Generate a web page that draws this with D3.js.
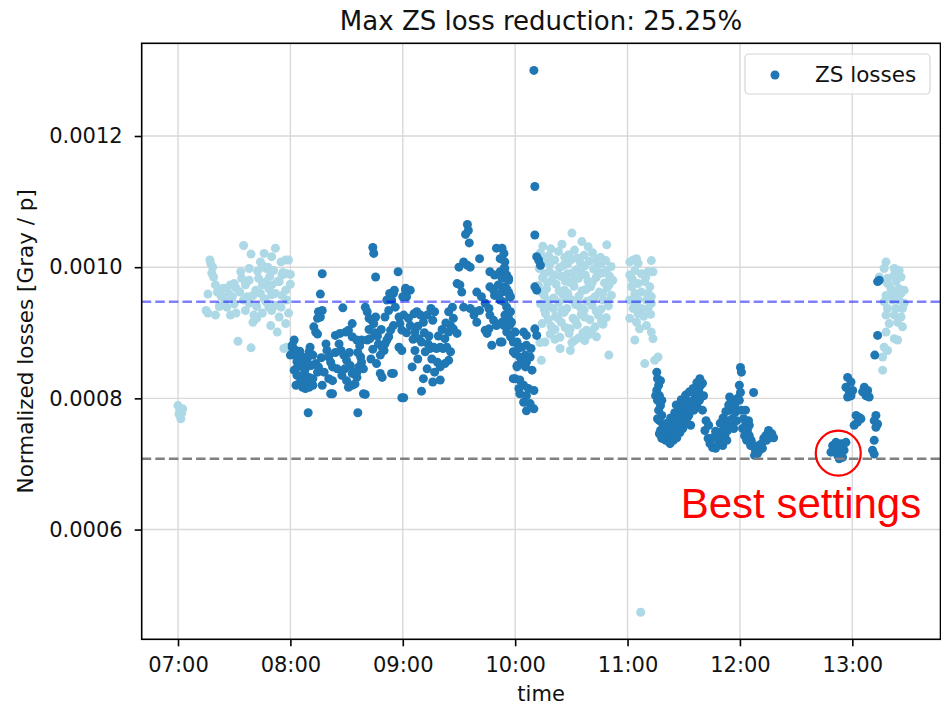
<!DOCTYPE html>
<html>
<head>
<meta charset="utf-8">
<script src="https://cdn.jsdelivr.net/npm/d3@7"></script>
<style>
  body { margin: 0; background: #fff; }
  svg { display: block; }
</style>
</head>
<body>
<svg id="chart" width="941" height="707"></svg>
<script>
// Each point: [minutes after SESSION_START, normalized loss in units of LOSS_UNIT]
const SESSION_START = "07:00";
const LOSS_UNIT = 1e-4;

// Reference loss level (blue dashed) and best loss found (grey dashed), in LOSS_UNIT
const referenceLoss = 9.472;
const bestLoss = 7.08;

// Reference running periods (light markers)
const light1 = [
  [0,7.89],[1,7.82],[2.5,7.84],[0.5,7.76],[1.5,7.69],[2,7.78],
  [35,10.33],[39,10.20],[46,10.21],[50,10.16],[52,10.29],
  [17,10.11],[17.5,10.05],[18.5,10.00],[18,9.91],[19,9.85],[20,9.73],[21,9.62],[16,9.59],
  [15,9.34],[16,9.30],[20,9.27],[26,9.39],[28,9.27],[31,9.30],
  [26,9.68],[28,9.73],[31,9.68],[33.5,9.93],[34,9.83],[36,9.73],[37,9.55],[36,9.34],
  [40,9.57],[41.5,9.65],[42.5,9.94],[44,10.08],[45,10.03],[47,9.98],
  [43,9.83],[45,9.73],[47,9.78],[48.5,9.67],[50,9.73],[52,9.60],[54,9.78],[55.5,9.88],
  [55,10.08],[57.5,10.11],[59,10.11],[58,9.90],[60,9.89],
  [40.5,9.27],[40,9.16],[42,9.22],[47,9.47],[48.5,9.39],[50,9.34],[52,9.42],[55,9.39],
  [54,9.24],[57.5,9.14],[49.5,9.11],[53,9.01],
  [55.5,9.57],[57.5,9.65],[58,9.50],[32,8.87],[39,8.77],[56.5,8.76],[58,8.78],
  [23,9.56],[25,9.48],[27,9.60],[29,9.55],[33,9.62],[38,9.45],[30,9.75],[44,9.60],
  [46,9.52],[50,9.58],[53,9.78],[56,9.92],[48,10.00],[51,9.95],[38,9.80],
  [22,9.40],[24,9.68],[30,9.44],[35,9.50],[42,9.40],[45,9.30],[38,9.98],[49,9.86],[60,9.74],[59,9.30]
];

const light2 = [
  [210.3,10.52],[194.8,10.32],[205,10.35],[215.6,10.39],[228.9,10.34],[219,10.31],[199,10.28],
  [193.5,10.22],[197.9,10.17],[203.1,10.24],[208.6,10.19],[211.7,10.26],[216.8,10.18],[221.3,10.22],[225.6,10.15],
  [195.2,10.08],[201.1,10.11],[205.8,10.03],[210.2,10.12],[214.9,10.06],[219.6,10.09],[223.8,10.02],[228.4,10.10],[231.2,10.01],
  [192.9,9.98],[198.3,9.93],[203.7,9.99],[207.9,9.90],[212.6,9.96],[217.5,9.88],[221.9,9.97],[226.3,9.91],[230.4,9.86],
  [194.6,9.84],[199.7,9.80],[204.4,9.86],[209.1,9.77],[213.8,9.83],[218.9,9.79],[223.2,9.84],[227.7,9.76],[232.1,9.80],
  [192.4,9.72],[196.8,9.67],[201.9,9.74],[206.3,9.65],[211.4,9.71],[215.7,9.64],[220.3,9.70],[224.9,9.62],[229.2,9.69],
  [195.5,9.57],[200.6,9.53],[205.2,9.59],[209.7,9.51],[214.1,9.56],[218.4,9.48],[222.6,9.55],[227.1,9.50],[231.4,9.57],
  [193.6,9.44],[198.1,9.40],[203.3,9.46],[207.6,9.37],[212.2,9.43],[216.9,9.35],[221.1,9.42],[225.8,9.36],[229.8,9.41],
  [196.2,9.29],[201.5,9.25],[206.1,9.31],[210.9,9.22],[215.3,9.28],[219.9,9.20],[224.4,9.27],[228.6,9.23],
  [194.4,9.14],[199.2,9.10],[204.6,9.16],[209.4,9.06],[213.2,9.12],[218.1,9.04],[222.7,9.09],[226.9,9.13],
  [198.7,8.98],[203.9,8.93],[208.8,8.99],[213.9,8.92],[219.2,8.97],[223.4,8.94],
  [195.9,8.86],[210.3,8.85],[217.2,8.88],[193.2,8.85],
  [204,8.76],[209.5,8.73],[194,8.58],[230,8.66],
  [196,10.13],[206.5,10.15],[213.3,10.14],[223.4,10.12],
  [198.5,10.04],[208,10.05],[217.3,10.02],[226,10.06],
  [195.8,9.90],[201,9.88],[210.5,9.91],[215.2,9.92],[224.4,9.89],[228.8,9.95],
  [197.3,9.76],[206.8,9.79],[211.5,9.80],[221.2,9.77],[230.3,9.74],
  [194.2,9.62],[203.5,9.64],[208.1,9.60],[217.8,9.66],[226.7,9.60],
  [197.9,9.49],[207.2,9.52],[211.8,9.47],[220.5,9.50],[229.5,9.48],
  [195.6,9.35],[200.4,9.37],[205,9.34],[214.7,9.39],[223.3,9.33],
  [197.7,9.20],[202.9,9.22],[212.3,9.18],[217.1,9.24],[226.1,9.18],
  [201.3,9.05],[206.7,9.08],[216.2,9.00],[221,9.03],
  [201.2,8.90],[211.6,8.88],
  [241.2,10.08],[244.8,10.13],[252.7,10.10],[243,10.11],[245.6,10.06],
  [241.2,9.88],[243.9,9.95],[247.4,9.90],[251,9.93],[253.6,9.93],
  [242.1,9.70],[245.6,9.75],[249.2,9.78],[251.9,9.70],
  [243.9,9.60],[247.4,9.62],[251,9.60],[252.7,9.55],
  [241.2,9.50],[245.6,9.50],[250.1,9.50],[252.7,9.45],
  [243,9.37],[247.4,9.37],[251,9.37],
  [241.2,9.22],[244.8,9.16],[245.6,9.29],[250.1,9.11],[252.7,9.01],[253.6,8.91],[243.9,8.89],
  [242.5,9.82],[249.8,9.85],[244,9.44],[248.6,9.25],[252.3,9.28],[246.4,9.06],
  [249.2,8.53],[254.5,8.58],[256.3,8.63],
  [247,4.74]
];

const light3 = [
  [378,10.08],[377,9.98],[382.4,9.98],[385,9.95],[374.4,9.85],[378.8,9.83],[382.4,9.88],[386,9.85],
  [378.8,9.75],[383.3,9.78],[380.6,9.67],[385,9.67],[387.7,9.65],[378,9.57],[382.4,9.60],[386,9.60],
  [377,9.47],[381.5,9.50],[385,9.50],[387.7,9.45],[378.8,9.37],[383.3,9.37],[386.8,9.37],
  [378,9.27],[382.4,9.27],[386,9.24],[379.7,9.14],[384.2,9.16],[386.8,9.09],[378,9.01],
  [382.4,8.91],[377,8.78],[378.8,8.73],[376.2,8.63],[384.2,8.89],[376.2,8.43]
];

// Scan periods (dark markers)
const dark1 = [
  [104,10.30],[104.5,10.21],[77,9.90],[105.5,9.85],[117.5,9.93],[76,9.59],[88,9.38],
  [75,9.32],[77,9.34],[76,9.24],[74.5,9.22],[72.5,9.09],[73.5,9.01],[74.5,8.98],
  [62,8.89],[61,8.78],[63,8.68],[60,8.66],
  [64.5,8.61],[66.5,8.63],[65.5,8.50],[67,8.55],[63,8.45],[68,8.45],
  [70.5,8.78],[70,8.71],[72,8.66],[73.5,8.53],[75,8.48],[74.5,8.40],[70,8.32],[72,8.30],
  [64.5,8.22],[66.5,8.17],[68,8.15],[70,8.17],[72,8.20],[71,8.27],
  [79,8.83],[79.5,8.73],[80.5,8.63],[81.5,8.55],[82.5,8.48],
  [84,8.96],[86.5,8.99],[89.5,9.01],[91,9.04],[93,9.14],
  [86,8.83],[87,8.73],[88.5,8.66],[90,8.58],[92,8.50],[93,8.38],[94.5,8.40],[95.5,8.32],
  [80.5,8.30],[82.5,8.27],[81.5,8.07],[90,8.27],[91,8.17],[93,8.20],[94.5,8.22],[99,8.07],
  [93,8.94],[95.5,8.89],[98,8.89],[101,8.89],[102.5,8.91],
  [97.5,8.63],[98,8.55],[96.5,8.48],[99,8.45],[95.5,8.40],
  [100,9.39],[101,9.32],[102,9.22],[103.5,9.19],[105.5,9.24],[104.5,9.14],
  [107,8.83],[109,8.78],[110.5,8.83],[110,8.73],[108,8.66],[106,8.53],[109,8.32],[108,8.38],[114,8.38],
  [110.5,9.24],[112.5,9.34],[114,9.50],[115,9.60],[116,9.39],[118,9.24],[118.5,9.14],[119.5,9.04],
  [121.5,9.65],[122,9.55],
  [118,8.78],[119.5,8.73],[115,9.11],[113.5,9.04],[112.5,8.94],[111.5,8.89],
  [69.5,7.78],[96,7.78],[82.5,8.07],[100,8.06],[115,8.38],[119.5,8.01],
  [61,8.81],[63,8.73],[62,8.66],[62,8.43],[63.5,8.35],[63,8.20],
  [111.5,9.50],[113,9.60],[115.5,9.65],[121.5,9.68],[120,9.55],
  [63.5,8.56],[65,8.72],[67.5,8.40],[69,8.60],[71,8.50],[66,8.30],[68.5,8.25],[76.5,8.62],
  [78,8.40],[77,8.20],[84,8.70],[85,8.45],[87.5,8.35],[89,8.45],[91.5,8.70],[96,8.70],
  [97,8.80],[103,8.60],[104,8.75],[106.5,8.95],[102,9.05],[108.5,9.05],[105,9.00],
  [154.5,10.65],[155,10.56],[153.5,10.50],[155.5,10.37],[161,10.13],
  [150,10.00],[152.5,10.08],[154.5,10.03],[156,10.00],
  [149,9.75],[150.5,9.73],[151.5,9.62],[152.5,9.39],
  [170,10.29],[173,10.29],[172,10.13],[174,10.21],
  [166.5,9.93],[169,9.88],[172,9.93],[174.5,9.98],[176.5,9.83],
  [166.5,9.70],[168.5,9.65],[171,9.73],[173,9.62],[175.5,9.67],[177,9.57],[169,9.57],[172,9.50],
  [159.5,9.62],[162,9.55],[164,9.45],[166,9.37],[166.5,9.27],[168.5,9.19],[170,9.11],[173,9.16],
  [175.5,9.22],[177,9.11],
  [156,9.37],[158,9.27],[159.5,9.16],[158.5,9.32],[161,9.34],
  [164,9.04],[166,9.06],[165,8.99],[167.5,8.81],[172,8.86],
  [144.5,9.32],[146.5,9.39],[147,9.22],[145.5,9.11],[144.5,9.01],[142.5,8.91],[147,9.06],[149,8.99],
  [124,9.65],[121.5,9.57],[120.5,9.27],[123,9.22],[126,9.29],[127.5,9.32],[129.5,9.27],[131,9.16],
  [133,9.27],[135,9.37],[136,9.19],[137,9.32],
  [124,9.11],[126.5,9.01],[128.5,8.91],[130,8.86],[126.5,8.73],[132,8.71],[133.5,8.83],[134.5,8.76],
  [136.5,8.78],[138,8.76],[140,8.78],[141.5,8.76],[143.5,8.78],[145.5,8.71],[144.5,8.58],[142.5,8.53],
  [140,8.48],[137,8.40],[140,8.28],[133,8.45],[125,8.48],[130,8.11],[120.5,8.01],
  [122,9.00],[125.5,8.90],[128,9.10],[131.5,9.00],[134,8.95],[135.5,8.60],[138.5,8.55],[139,8.95],
  [141,9.05],[143,9.15],[136,8.25],[131,8.30],[128,8.60],
  [180,9.01],[181,8.86],[179,8.71],[181,8.50],[179,8.30],[182,8.15],
  [190.5,10.49],[191.5,10.16],[192.5,10.11],[193.5,10.03],[190.5,9.70],[191.5,9.65],
  [173,10.13],[174.5,10.08],[174,9.98],[175.5,9.88],[173,9.83],[176.5,9.80],
  [174.5,9.70],[176.5,9.62],[177.5,9.55],[174,9.47],[175.5,9.39],[177.5,9.32],[174.5,9.27],[176.5,9.22],
  [178,9.16],[174,9.11],[175.5,9.01],[177.5,8.94],[173,8.86],
  [184.5,9.01],[186,8.96],[190.5,9.06],[191.5,8.96],[179,8.86],[181.5,8.76],[183.5,8.78],
  [186,8.81],[188.5,8.76],[180,8.68],[182.5,8.63],[185.5,8.66],[188,8.63],[183.5,8.55],[186,8.55],
  [181,8.48],[185.5,8.48],[189,8.43],[180,8.30],[182.5,8.28],[184.5,8.20],[187,8.15],[190,8.12],
  [182.5,8.07],[186,8.04],[184.5,7.94],[188,7.92],[190,7.84],[186,7.81],
  [190,13.00],[190.5,11.23]
];

const dark2 = [
  [255.6,8.40],[256,8.30],[256.6,8.20],[255.6,8.12],[257,8.04],[256,7.97],[257.6,7.89],[256.6,7.82],
  [258.3,7.74],[257,7.66],[259,7.59],[257.6,7.51],[259.4,7.43],[258.3,7.39],[257.6,8.27],[255,8.04],
  [258.3,7.97],[256,7.69],[260,7.54],[257,7.46],
  [260.4,7.36],[262,7.40],[263.5,7.48],[261.4,7.54],[265,7.51],[266.7,7.59],[263.5,7.63],[268.4,7.66],
  [270,7.74],[266.3,7.69],[271.7,7.82],[273.4,7.89],[270,7.59],[275,7.97],[272,7.71],[276.3,8.04],
  [278,8.12],[275.4,7.82],[279,8.20],[277,7.89],[280,8.23],[278.4,7.97],
  [262.7,7.31],[264.5,7.36],[266.3,7.40],[268,7.48],[269.5,7.54],[271,7.62],[272.7,7.74],[274.4,7.82],
  [276,7.94],[277.5,8.04],[273.7,7.59],[278.6,8.30],[277,8.24],
  [266,7.90],[268.7,7.98],[271,8.05],[273,8.10],[275,8.15],[268.7,7.85],[265.2,7.78],[263,7.70],
  [272.7,7.95],[270,7.88],[267,7.80],[261,7.62],
  [280.6,8.04],[280,7.82],[281.9,7.66],[281.3,7.51],[283,7.39],[284,7.31],[285.4,7.25],[287,7.24],
  [283.3,7.59],
  [288.6,7.31],[290,7.39],[292,7.43],[289.2,7.48],[293.4,7.51],[292.4,7.60],[295,7.59],[296,7.69],
  [294.6,7.82],[297.2,7.89],[295.6,7.97],[297.6,7.79],[298.8,8.00],
  [288,7.40],[290.8,7.28],[293,7.36],[294,7.66],[296.7,7.54],[298.3,7.66],[291.4,7.54],
  [291,7.70],[292.5,7.80],[294,7.90],[294.5,8.02],[289.5,7.62],[287,7.50],[285.5,7.40],
  [300.3,8.47],[300.8,8.40],[299.7,8.20],[300.3,8.09],[299.7,7.97],[300.8,7.82],[307.3,8.09],
  [302,7.69],[303,7.59],[304,7.51],[305,7.43],[306,7.36],[307.3,7.28],[308.3,7.21],[309.4,7.16],
  [310.5,7.21],[302.5,7.43],[305,7.59],[301.4,7.54],[303.6,7.36],[305.7,7.28],[307.8,7.13],
  [304.6,7.66],[303,7.82],
  [311.6,7.31],[312.7,7.39],[313.8,7.43],[314.8,7.46],[315.9,7.40],[314.2,7.36],[310,7.28],
  [312,7.24],[315.3,7.51],[317,7.46],[318,7.40]
];

const dark3 = [
  [349.5,7.28],[351.3,7.33],[354,7.31],[356.6,7.33],[350.4,7.21],[353,7.23],[355.6,7.21],
  [352.2,7.13],[354.8,7.10],[353,7.08],[348.6,7.18],[351,7.25],[355,7.28],[352.5,7.30],
  [357.5,8.32],[359.3,8.25],[356.6,8.17],[358.4,8.10],[360.2,8.12],[357.5,8.02],[359.3,8.04],
  [366.4,8.17],[368.2,8.12],[365.5,8.10],[367.3,8.04],[369,8.02],
  [362,7.74],[363.7,7.71],[362.8,7.64],[361,7.59],[364.6,7.69],
  [372.6,7.74],[371.7,7.66],[373.5,7.61],[372.6,7.56],
  [371.7,7.36],[370.8,7.21],[371.7,7.15],
  [373.5,9.78],[374.4,9.80],[373.5,8.96],[372,8.66]
];

const lightSeries = [light1, light2, light3];
const darkSeries = [dark1, dark2, dark3];

const yTickValues = [6e-4, 8e-4, 10e-4, 12e-4];
const titlePrefix = "Max ZS loss reduction: ";
const legendLabel = "ZS losses";
const xLabel = "time";
const yLabel = "Normalized losses [Gray / p]";
const annotationText = "Best settings";
// Annotation anchor: [minutes after start, loss in LOSS_UNIT]
const bestCircleAt = [352.5, 7.165];
const annotationAt = [268.4, 6.17];

const LIGHT = "#add8e6";
const DARK = "#1f77b4";

// ---------------------------------------------------------------
const svg = d3.select("#chart");
const plot = { left: 141.7, top: 43.3, right: 940.5, bottom: 639.3 };

const start = d3.timeParse("%H:%M")(SESSION_START);
const toTime = m => new Date(start.getTime() + Math.round(m * 60000));

const allPoints = lightSeries.flat().concat(darkSeries.flat());
const mExt = d3.extent(allPoints, d => d[0]);
const vExt = d3.extent(allPoints, d => d[1] * LOSS_UNIT);
const mPad = (mExt[1] - mExt[0]) * 0.05;
const vPad = (vExt[1] - vExt[0]) * 0.05;

const x = d3.scaleTime()
  .domain([toTime(mExt[0] - mPad), toTime(mExt[1] + mPad)])
  .range([plot.left, plot.right]);
const y = d3.scaleLinear()
  .domain([vExt[0] - vPad, vExt[1] + vPad])
  .range([plot.bottom, plot.top]);

const FONT = "'DejaVu Sans', sans-serif";
const R = 4.5;

// grid
const grid = svg.append("g").attr("stroke", "#d9d9d9").attr("stroke-width", 1.4);
const hourTicks = x.ticks(d3.timeHour.every(1));
grid.selectAll("line.v").data(hourTicks).join("line")
  .attr("x1", d => x(d)).attr("x2", d => x(d))
  .attr("y1", plot.top).attr("y2", plot.bottom);
grid.selectAll("line.h").data(yTickValues).join("line")
  .attr("x1", plot.left).attr("x2", plot.right)
  .attr("y1", d => y(d)).attr("y2", d => y(d));

// points
const pts = svg.append("g");
const drawSeries = (series, color) => {
  series.forEach(s => {
    pts.append("g").attr("fill", color)
      .selectAll("circle").data(s).join("circle")
      .attr("cx", d => x(toTime(d[0])))
      .attr("cy", d => y(d[1] * LOSS_UNIT))
      .attr("r", R);
  });
};
drawSeries(lightSeries, LIGHT);
drawSeries(darkSeries, DARK);

// reference lines
svg.append("line")
  .attr("x1", plot.left).attr("x2", plot.right)
  .attr("y1", y(referenceLoss * LOSS_UNIT)).attr("y2", y(referenceLoss * LOSS_UNIT))
  .attr("stroke", "rgba(0,0,255,0.5)").attr("stroke-width", 2.6)
  .attr("stroke-dasharray", "9.5,4.1");
svg.append("line")
  .attr("x1", plot.left).attr("x2", plot.right)
  .attr("y1", y(bestLoss * LOSS_UNIT)).attr("y2", y(bestLoss * LOSS_UNIT))
  .attr("stroke", "#808080").attr("stroke-width", 2.6)
  .attr("stroke-dasharray", "9.5,4.1");

// axes
const xAxis = svg.append("g")
  .attr("transform", `translate(0,${plot.bottom})`)
  .call(d3.axisBottom(x).ticks(d3.timeHour.every(1)).tickFormat(d3.timeFormat("%H:%M"))
    .tickSize(7).tickPadding(10.5));
const yAxis = svg.append("g")
  .attr("transform", `translate(${plot.left},0)`)
  .call(d3.axisLeft(y).tickValues(yTickValues).tickFormat(d3.format(".4f"))
    .tickSize(7).tickPadding(12));
[xAxis, yAxis].forEach(a => {
  a.select(".domain").remove();
  a.selectAll(".tick line").attr("stroke", "#000").attr("stroke-width", 1.6);
  a.selectAll(".tick text").attr("fill", "#111").style("font-family", FONT).style("font-size", "21px");
});

// frame
svg.append("rect")
  .attr("x", plot.left).attr("y", plot.top)
  .attr("width", plot.right - plot.left).attr("height", plot.bottom - plot.top)
  .attr("fill", "none").attr("stroke", "#000").attr("stroke-width", 1.6);

// title and labels
const reduction = (1 - bestLoss / referenceLoss) * 100;
svg.append("text")
  .attr("x", (plot.left + plot.right) / 2).attr("y", 30)
  .attr("text-anchor", "middle")
  .style("font-family", FONT).style("font-size", "26px").attr("fill", "#111")
  .text(titlePrefix + d3.format(".2f")(reduction) + "%");
svg.append("text")
  .attr("x", (plot.left + plot.right) / 2).attr("y", 701)
  .attr("text-anchor", "middle")
  .style("font-family", FONT).style("font-size", "21px").attr("fill", "#111")
  .text(xLabel);
svg.append("text")
  .attr("transform", `translate(33,${(plot.top + plot.bottom) / 2}) rotate(-90)`)
  .attr("text-anchor", "middle")
  .style("font-family", FONT).style("font-size", "21.5px").attr("fill", "#111")
  .text(yLabel);

// legend
const lg = svg.append("g");
lg.append("rect")
  .attr("x", 745).attr("y", 54).attr("width", 185).attr("height", 40).attr("rx", 4)
  .attr("fill", "rgba(255,255,255,0.8)").attr("stroke", "#d5d5d5").attr("stroke-width", 1.2);
lg.append("circle").attr("cx", 775).attr("cy", 75).attr("r", R).attr("fill", DARK);
lg.append("text").attr("x", 815).attr("y", 82)
  .style("font-family", FONT).style("font-size", "21.5px").attr("fill", "#111")
  .text(legendLabel);

// annotation
svg.append("circle")
  .attr("cx", x(toTime(bestCircleAt[0]))).attr("cy", y(bestCircleAt[1] * LOSS_UNIT))
  .attr("r", 22.5).attr("fill", "none").attr("stroke", "#ff0000").attr("stroke-width", 2.2);
svg.append("text")
  .attr("x", x(toTime(annotationAt[0]))).attr("y", y(annotationAt[1] * LOSS_UNIT))
  .style("font-family", "'Liberation Sans', Arial, sans-serif").style("font-size", "42px")
  .attr("fill", "#ff0000")
  .text(annotationText);
</script>
</body>
</html>
